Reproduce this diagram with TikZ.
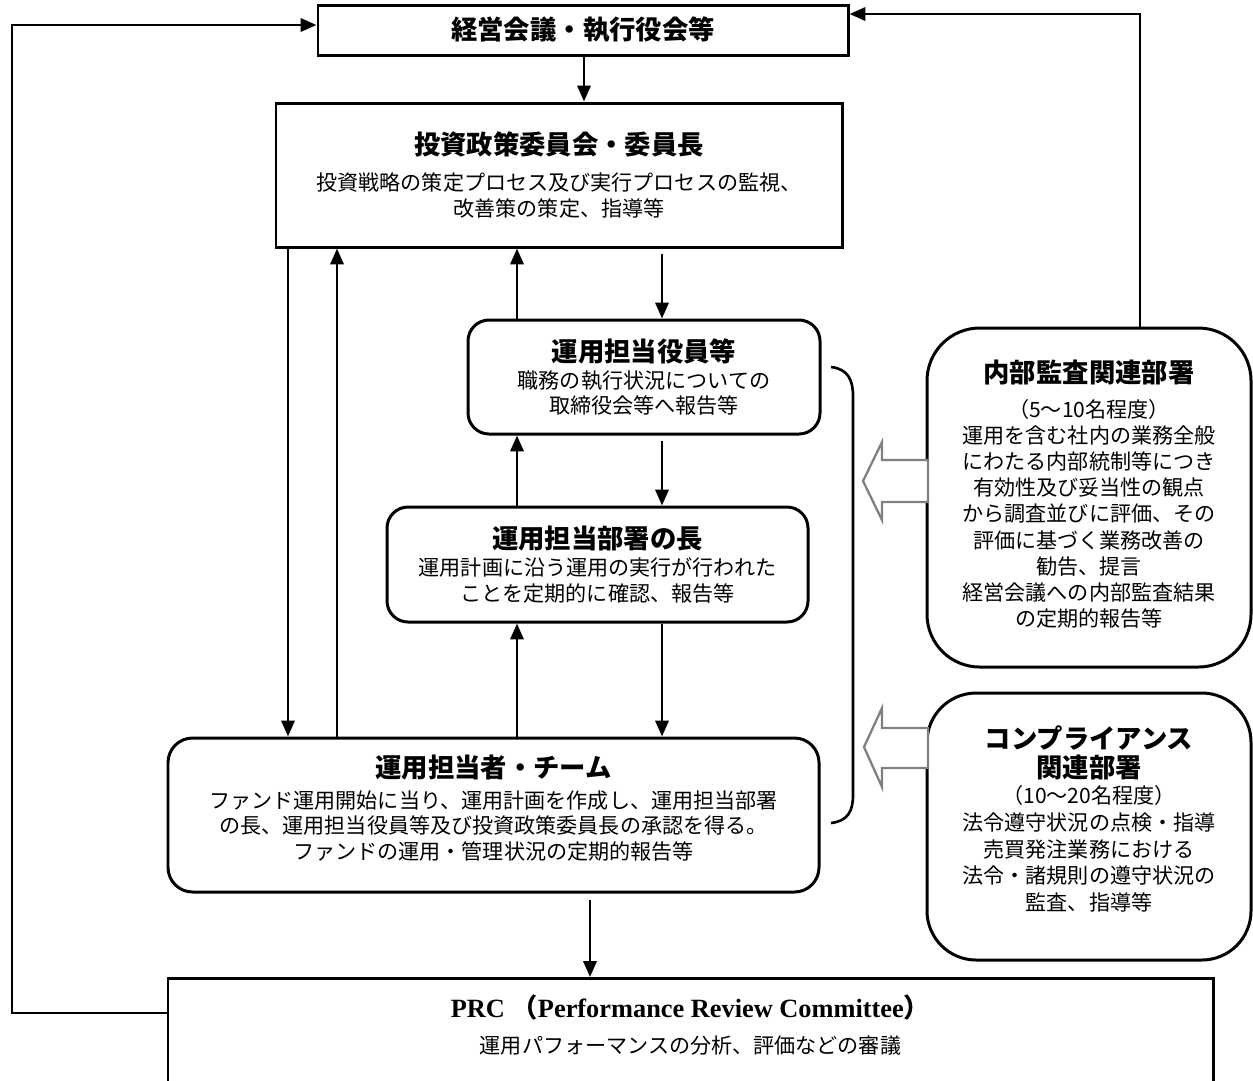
\documentclass[tikz,border=0pt]{standalone}
\usepackage{fontspec}
\usetikzlibrary{arrows.meta}
\setmainfont{Noto Sans CJK JP}
\newfontfamily\jp{Noto Sans CJK JP}
\newfontfamily\lserif{Liberation Serif}
\newcommand\titlef{\jp\bfseries\fontsize{15}{18}\selectfont}
\newcommand\bodyf{\jp\fontsize{12}{14.5}\selectfont}
\def\pxu{0.02cm}
\begin{document}
\begin{tikzpicture}[x=0.02cm,y=-0.02cm,
  box/.style={draw, line width=1.7pt, inner sep=0pt, align=center, font=\bodyf, fill=white},
  rbox/.style={box, rounded corners=12pt},
  bigr/.style={box, rounded corners=30pt},
  txt/.style={inner sep=0pt, align=center, font=\bodyf},
  arr/.style={line width=1.5pt, -{Triangle[length=9pt,width=7.5pt]}},
  hollow/.style={draw=gray, fill=white, line width=1.3pt, line join=miter}]
\useasboundingbox (0,0) rectangle (1253,1080);
\clip (0,0) rectangle (1253,1080);
\fill[white] (0,0) rectangle (1253,1080);

% boxes
\node[box, minimum width=530*\pxu, minimum height=50*\pxu] (top) at (583,30)
  {\titlef 経営会議・執行役会等};
\node[box, minimum width=566*\pxu, minimum height=144*\pxu] (inv) at (559,175)
  {{\titlef 投資政策委員会・委員長}\\[6pt]
   投資戦略の策定プロセス及び実行プロセスの監視、\\
   改善策の策定、指導等};
\node[rbox, minimum width=352*\pxu, minimum height=114*\pxu] (yak) at (644,377)
  {{\titlef 運用担当役員等}\\[1pt]
   職務の執行状況についての\\
   取締役会等へ報告等};
\node[rbox, minimum width=421*\pxu, minimum height=115*\pxu] (bu) at (597.5,564.5)
  {{\titlef 運用担当部署の長}\\[1pt]
   運用計画に沿う運用の実行が行われた\\
   ことを定期的に確認、報告等};
\node[rbox, rounded corners=14pt, minimum width=651*\pxu, minimum height=154*\pxu] (team) at (493.5,815) {};
\node[txt] (teamt) at (493.5,808)
  {{\titlef 運用担当者・チーム}\\[3pt]
   ファンド運用開始に当り、運用計画を作成し、運用担当部署\\
   の長、運用担当役員等及び投資政策委員長の承認を得る。\\
   ファンドの運用・管理状況の定期的報告等};
\node[bigr, minimum width=324*\pxu, minimum height=339*\pxu] (naibu) at (1089,497.5) {};
\node[txt, font=\jp\fontsize{12}{14.9}\selectfont] (naibut) at (1089,494)
  {{\titlef 内部監査関連部署}\\[5pt]
   （5～10名程度）\\
   運用を含む社内の業務全般\\
   にわたる内部統制等につき\\
   有効性及び妥当性の観点\\
   から調査並びに評価、その\\
   評価に基づく業務改善の\\
   勧告、提言\\
   経営会議への内部監査結果\\
   の定期的報告等};
\node[bigr, rounded corners=28pt, minimum width=324*\pxu, minimum height=267*\pxu] (comp) at (1089,826.5) {};
\node[txt, font=\jp\fontsize{12}{15.2}\selectfont] (compt) at (1089,819)
  {{\titlef コンプライアンス}\\[1pt]
   {\titlef 関連部署}\\
   （10～20名程度）\\
   法令遵守状況の点検・指導\\
   売買発注業務における\\
   法令・諸規則の遵守状況の\\
   監査、指導等};
\node[box, anchor=north, minimum width=1045*\pxu, minimum height=140*\pxu] (prc) at (690.5,977) {};
\node[txt] (prct) at (690.5,1025)
  {{\lserif\bfseries\fontsize{15}{18}\selectfont PRC {\jp （}Performance Review Committee{\jp ）}}\\[6pt]
   運用パフォーマンスの分析、評価などの審議};

% hollow arrows
\path[hollow] (928,460) -- (882,460) -- (882,442) -- (863,481) -- (882,520) -- (882,502) -- (928,502) -- cycle;
\path[hollow] (928,728) -- (882,728) -- (882,708) -- (864,747) -- (882,787) -- (882,768) -- (928,768) -- cycle;

% bracket
\draw[line width=1.5pt] (831,367) .. controls (848,369) and (853,380) .. (853,396)
  -- (853,795) .. controls (853,811) and (848,821) .. (831,823);

% x guides
\coordinate (x288) at (288,0);
\coordinate (x337) at (337,0);
\coordinate (x517) at (517,0);
\coordinate (x662) at (662,0);
\coordinate (x584) at (584,0);
\coordinate (x590) at (590,0);

% connectors
\draw[arr] (top.south -| x584) -- (inv.north -| x584);
\draw[arr] (inv.south -| x288) -- (team.north -| x288);
\draw[arr] (team.north -| x337) -- (inv.south -| x337);
\draw[arr] (yak.north -| x517) -- (inv.south -| x517);
\draw[arr, shorten <=3pt] (inv.south -| x662) -- (yak.north -| x662);
\draw[arr] (bu.north -| x517) -- (yak.south -| x517);
\draw[arr, shorten <=3pt] (yak.south -| x662) -- (bu.north -| x662);
\draw[arr] (team.north -| x517) -- (bu.south -| x517);
\draw[arr] (bu.south -| x662) -- (team.north -| x662);
\draw[arr, shorten <=3.5pt] (team.south -| x590) -- (prc.north -| x590);

% long feedback lines
\coordinate (cl1) at (12,1013);
\coordinate (cl2) at (12,25);
\draw[arr, line join=miter] (prc.west |- cl1) -- (cl1) -- (cl2) -- (top.west |- cl2);
\coordinate (cr) at (1140,14);
\draw[arr, line join=miter] (naibu.north -| cr) -- (cr) -- (top.east |- cr);
\end{tikzpicture}
\end{document}
